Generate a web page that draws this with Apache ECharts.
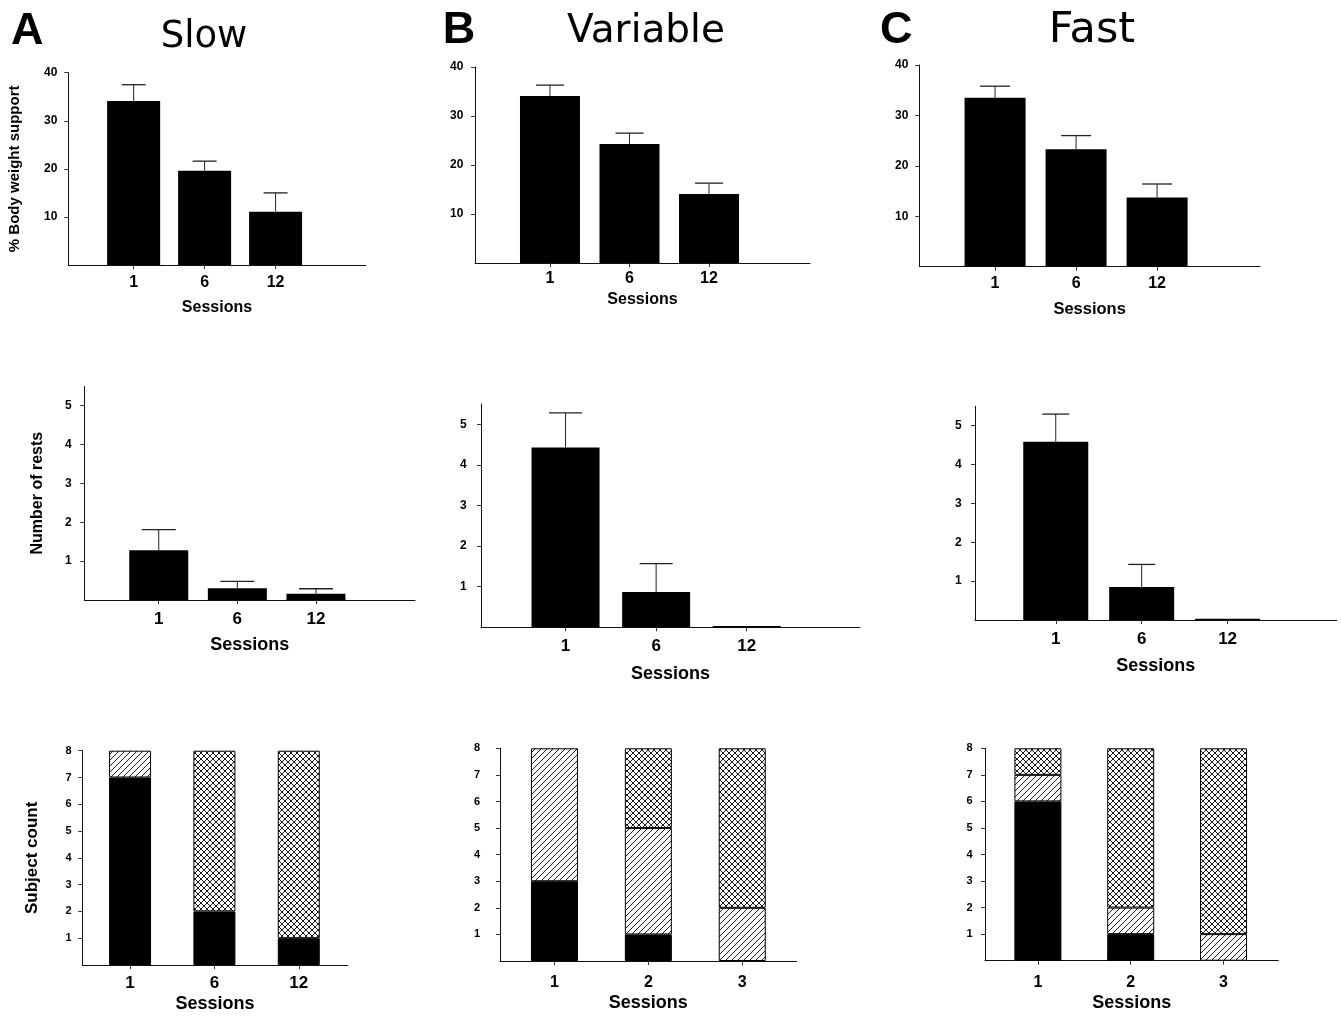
<!DOCTYPE html>
<html><head><meta charset="utf-8">
<script src="https://cdn.jsdelivr.net/npm/echarts@6/dist/echarts.min.js"></script>
<style>html,body{margin:0;padding:0;background:#fff}#c{width:1341px;height:1019px}</style>
</head><body><div id="c"></div>
<script>
// ---------------- DATA ----------------
const panelLetters = ['A', 'B', 'C'];
const panelTitles = ['Slow', 'Variable', 'Fast'];
const sessionsTopMid = ['1', '6', '12'];
const sessionsBottomSlow = ['1', '6', '12'];
const sessionsBottomOther = ['1', '2', '3'];

const bwsTicks = [10, 20, 30, 40];
const restTicks = [1, 2, 3, 4, 5];
const countTicks = [1, 2, 3, 4, 5, 6, 7, 8];

// % body weight support: mean and top of error bar
const bwsSlow = [34.1, 19.6, 11.1];
const bwsSlowErrTop = [37.5, 21.6, 15.0];
const bwsVariable = [34.1, 24.3, 14.1];
const bwsVariableErrTop = [36.3, 26.5, 16.3];
const bwsFast = [33.5, 23.3, 13.7];
const bwsFastErrTop = [35.8, 26.0, 16.4];

// number of rests: mean and top of error bar
const restsSlow = [1.28, 0.30, 0.16];
const restsSlowErrTop = [1.81, 0.48, 0.29];
const restsVariable = [4.43, 0.87, 0.03];
const restsVariableErrTop = [5.28, 1.57, null];
const restsFast = [4.59, 0.85, 0.03];
const restsFastErrTop = [5.30, 1.43, null];

// subject count (stacked): solid / hatched / cross-hatched
const countSolidSlow = [7, 2, 1];
const countHatchSlow = [1, 0, 0];
const countCrossSlow = [0, 6, 7];
const countSolidVariable = [3, 1, 0];
const countHatchVariable = [5, 4, 2];
const countCrossVariable = [0, 3, 6];
const countSolidFast = [6, 1, 0];
const countHatchFast = [1, 1, 1];
const countCrossFast = [1, 6, 7];

// ---------------- LAYOUT ----------------
const FONT = "'Liberation Sans', Arial, sans-serif";
const panels = [
  // row 0
  {left:68.3, top:72.7, right:365.7, bottom:265, xMin:0.079, xMax:4.27, barW:53, capW:24, xMargin:9.6, nameGap:34.6, xFont:16, nameFont:16, yMargin:11, yFont:12},
  {left:475, top:67, right:810, bottom:263, xMin:0.057, xMax:4.27, barW:60, capW:28, xMargin:8, nameGap:28.2, xFont:16, nameFont:16, yMargin:11.7, yFont:12},
  {left:919.3, top:65, right:1260, bottom:266.7, xMin:0.065, xMax:4.27, barW:61, capW:30, xMargin:9.2, nameGap:34.5, xFont:16, nameFont:16.5, yMargin:11, yFont:12},
  // row 1
  {left:84.3, top:386.3, right:415, bottom:600, xMin:0.053, xMax:4.26, barW:59, capW:34, xMargin:10.8, nameGap:36, xFont:17, nameFont:18, yMargin:12.6, yFont:12},
  {left:481, top:404, right:860, bottom:627.3, xMin:0.067, xMax:4.25, barW:68, capW:33, xMargin:10.5, nameGap:37.7, xFont:17, nameFont:18, yMargin:14.3, yFont:12},
  {left:975, top:406.3, right:1336.7, bottom:620, xMin:0.06, xMax:4.27, barW:65, capW:27, xMargin:11, nameGap:37, xFont:17, nameFont:18, yMargin:13.3, yFont:12},
  // row 2
  {left:82.3, top:750.7, right:347.7, bottom:965, xMin:0.434, xMax:3.58, barW:42, xMargin:9.5, nameGap:29.7, xFont:17, nameFont:18, yMargin:10.6, yFont:11},
  {left:500, top:748.3, right:796.7, bottom:961, xMin:0.42, xMax:3.58, barW:47, xMargin:14, nameGap:33.4, xFont:16, nameFont:18, yMargin:20, yFont:11},
  {left:985, top:748.3, right:1278.3, bottom:960.7, xMin:0.43, xMax:3.59, barW:47, xMargin:14, nameGap:33.7, xFont:16, nameFont:18, yMargin:12.3, yFont:11}
];

// ---------------- PATTERNS ----------------
function hatchPattern() {
  const s = 6, c = document.createElement('canvas'); c.width = c.height = s;
  const g = c.getContext('2d');
  g.fillStyle = '#fff'; g.fillRect(0, 0, s, s);
  g.strokeStyle = '#000'; g.lineWidth = 0.9;
  g.beginPath();
  g.moveTo(-1, s + 1); g.lineTo(s + 1, -1);
  g.moveTo(-1, 1); g.lineTo(1, -1);
  g.moveTo(s - 1, s + 1); g.lineTo(s + 1, s - 1);
  g.stroke();
  return c;
}
function crossPattern() {
  const s = 6, c = document.createElement('canvas'); c.width = c.height = s;
  const g = c.getContext('2d');
  g.fillStyle = '#fff'; g.fillRect(0, 0, s, s);
  g.strokeStyle = '#000'; g.lineWidth = 0.9;
  g.beginPath();
  g.moveTo(-1, s + 1); g.lineTo(s + 1, -1);
  g.moveTo(-1, 1); g.lineTo(1, -1);
  g.moveTo(s - 1, s + 1); g.lineTo(s + 1, s - 1);
  g.moveTo(-1, -1); g.lineTo(s + 1, s + 1);
  g.moveTo(-1, s - 1); g.lineTo(1, s + 1);
  g.moveTo(s - 1, -1); g.lineTo(s + 1, 1);
  g.stroke();
  return c;
}
const hatchFill = { image: hatchPattern(), repeat: 'repeat' };
const crossFill = { image: crossPattern(), repeat: 'repeat' };

// ---------------- BUILD ----------------
const grids = [], xAxes = [], yAxes = [], series = [];
const rowYMax = [40, 5.5, 8];
const rowTicks = [bwsTicks, restTicks, countTicks];
const rowYNames = ['% Body weight support', 'Number of rests', 'Subject count'];
const yNameFont = [15, 16, 17];
const yNameGap = [46, 38.6, 41.6];

const meansByPanel = [bwsSlow, bwsVariable, bwsFast, restsSlow, restsVariable, restsFast];
const errByPanel = [bwsSlowErrTop, bwsVariableErrTop, bwsFastErrTop, restsSlowErrTop, restsVariableErrTop, restsFastErrTop];
const stackByPanel = [
  [countSolidSlow, countHatchSlow, countCrossSlow],
  [countSolidVariable, countHatchVariable, countCrossVariable],
  [countSolidFast, countHatchFast, countCrossFast]
];
const bottomCats = [sessionsBottomSlow, sessionsBottomOther, sessionsBottomOther];

panels.forEach((p, i) => {
  const row = Math.floor(i / 3), col = i % 3;
  const cats = row < 2 ? sessionsTopMid : bottomCats[col];
  grids.push({ left: p.left, top: p.top, width: p.right - p.left, height: p.bottom - p.top, outerBoundsMode: 'none', containLabel: false });
  xAxes.push({
    type: 'value', gridIndex: i, min: p.xMin, max: p.xMax,
    name: 'Sessions', nameLocation: 'middle', nameGap: p.nameGap,
    nameTextStyle: { fontFamily: FONT, fontWeight: 'bold', fontSize: p.nameFont, color: '#000' },
    axisLine: { show: true, lineStyle: { color: '#111', width: 1 } },
    axisTick: { show: true, length: 4, customValues: cats.map((c, k) => k + 1), lineStyle: { color: '#333' } },
    axisLabel: { show: true, customValues: cats.map((c, k) => k + 1), formatter: v => cats[Math.round(v) - 1],
      margin: p.xMargin, fontFamily: FONT, fontWeight: 'bold', fontSize: p.xFont, color: '#000' },
    splitLine: { show: false }
  });
  yAxes.push({
    type: 'value', gridIndex: i, min: 0, max: rowYMax[row],
    name: col === 0 ? rowYNames[row] : '', nameLocation: 'middle', nameRotate: 90, nameGap: yNameGap[row],
    nameTextStyle: { fontFamily: FONT, fontWeight: 'bold', fontSize: yNameFont[row], color: '#000' },
    axisLine: { show: true, lineStyle: { color: '#111', width: 1 } },
    axisTick: { show: true, length: 4, customValues: rowTicks[row], lineStyle: { color: '#333' } },
    axisLabel: { show: true, customValues: rowTicks[row], margin: p.yMargin, fontFamily: FONT, fontWeight: 'bold', fontSize: p.yFont, color: '#000' },
    splitLine: { show: false }
  });

  if (row < 2) {
    const means = meansByPanel[i], errs = errByPanel[i];
    series.push({
      type: 'bar', xAxisIndex: i, yAxisIndex: i, barWidth: p.barW,
      itemStyle: { color: '#000' }, silent: true,
      data: means.map((v, k) => [k + 1, v])
    });
    const capW = p.capW;
    series.push({
      type: 'custom', xAxisIndex: i, yAxisIndex: i, silent: true, z: 3,
      data: means.map((v, k) => [k + 1, v, errs[k]]).filter(d => d[2] != null),
      renderItem: (params, api) => {
        const x = api.value(0);
        const a = api.coord([x, api.value(1)]);
        const b = api.coord([x, api.value(2)]);
        return { type: 'group', children: [
          { type: 'line', shape: { x1: a[0], y1: a[1], x2: b[0], y2: b[1] }, style: { stroke: '#222', lineWidth: 1 } },
          { type: 'line', shape: { x1: b[0] - capW / 2, y1: b[1], x2: b[0] + capW / 2, y2: b[1] }, style: { stroke: '#222', lineWidth: 1.3 } }
        ] };
      }
    });
  } else {
    const [solid, hatch, cross] = stackByPanel[col];
    const fills = ['#000', hatchFill, crossFill];
    [solid, hatch, cross].forEach((arr, s) => {
      series.push({
        type: 'bar', xAxisIndex: i, yAxisIndex: i, barWidth: p.barW, stack: 'count' + col, silent: true,
        itemStyle: { color: fills[s], borderColor: '#000', borderWidth: 1 },
        // value first so that stacking happens on the y (count) dimension; empty segments not drawn
        dimensions: ['count', 'session'],
        encode: { x: 1, y: 0 },
        data: arr.map((v, k) => [v === 0 ? '-' : v, k + 1])
      });
    });
  }
});

// titles
const letterPos = [{x: 11, y: 32}, {x: 442.7, y: 31}, {x: 880, y: 30.5}];
const titlePos = [{x: 204, y: 37.5, f: 37}, {x: 646, y: 32, f: 39}, {x: 1092, y: 30.5, f: 43}];
const graphics = [];
panelLetters.forEach((t, k) => graphics.push({ type: 'text', x: letterPos[k].x, y: letterPos[k].y,
  style: { text: t, fontFamily: FONT, fontWeight: 'bold', fontSize: 45, fill: '#000', align: 'left', verticalAlign: 'middle' } }));
panelTitles.forEach((t, k) => graphics.push({ type: 'text', x: titlePos[k].x, y: titlePos[k].y,
  style: { text: t, fontFamily: "'DejaVu Sans', sans-serif", fontSize: titlePos[k].f, fill: '#000', align: 'center', verticalAlign: 'middle' } }));

const chart = echarts.init(document.getElementById('c'), null, { renderer: 'canvas' });
chart.setOption({
  backgroundColor: '#fff',
  animation: false,
  grid: grids, xAxis: xAxes, yAxis: yAxes, series: series, graphic: graphics
});
</script></body></html>
